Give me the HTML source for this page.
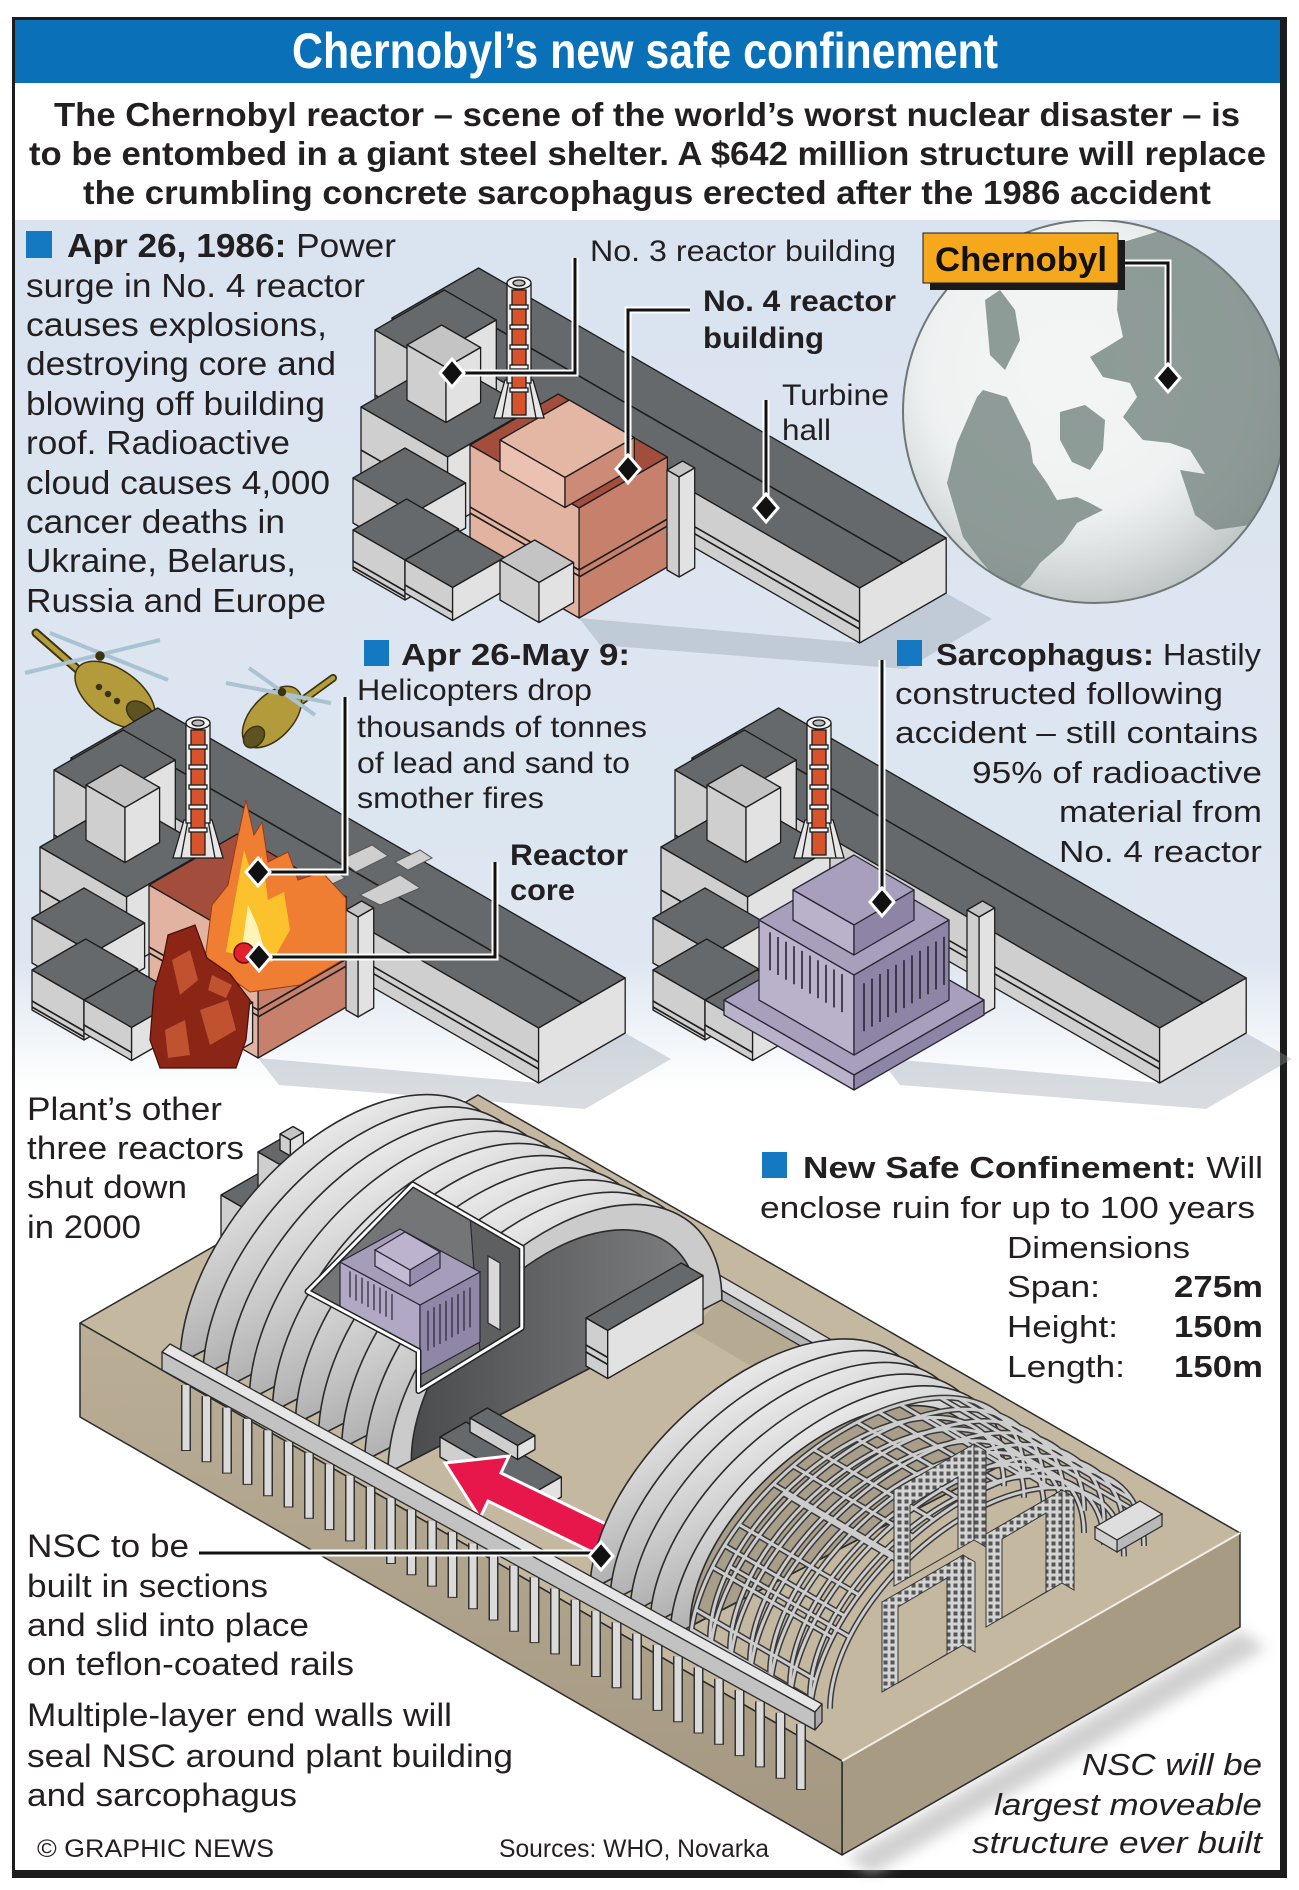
<!DOCTYPE html>
<html>
<head>
<meta charset="utf-8">
<style>
html,body{margin:0;padding:0;background:#fff;}
svg{display:block;}
.tx{font-family:'Liberation Sans',Arial,Helvetica,sans-serif;fill:#231f20;}
.b{font-weight:700;}
.t{fill:#66696b}.l{fill:#cfcfcf}.r{fill:#e2e2e2}.tl{fill:#c4c4c4}
.bx polygon{stroke:#1d1d1d;stroke-width:1.3;stroke-linejoin:round}
.ln{fill:none;stroke:#1d1d1d;stroke-width:1.6}
.sh{fill:#8e9aa8;opacity:.35}
.halo{fill:none;stroke:#fff;stroke-width:7;stroke-linejoin:miter}
.lead{fill:none;stroke:#111;stroke-width:3;stroke-linejoin:miter}
.dia{fill:#111;stroke:#fff;stroke-width:3}
.pt{fill:#a89fbd}.pl{fill:#bab1cb}.pr{fill:#8d84a6}
.sar polygon{stroke:#2a2535;stroke-width:1.3;stroke-linejoin:round}
</style>
</head>
<body>
<svg xmlns="http://www.w3.org/2000/svg" xmlns:xlink="http://www.w3.org/1999/xlink" width="1299" height="1890" viewBox="0 0 1299 1890">
<defs>
  <linearGradient id="panelG" x1="0" y1="0" x2="0" y2="1">
    <stop offset="0" stop-color="#dae4f0"/>
    <stop offset="0.85" stop-color="#dde6f1"/>
    <stop offset="1" stop-color="#ffffff"/>
  </linearGradient>
  <radialGradient id="globeShade" gradientUnits="userSpaceOnUse" cx="1070" cy="370" r="240">
    <stop offset="0" stop-color="#ffffff" stop-opacity="0"/>
    <stop offset="0.6" stop-color="#9aa4a3" stop-opacity="0.05"/>
    <stop offset="1" stop-color="#7f8a88" stop-opacity="0.45"/>
  </radialGradient>
  <linearGradient id="ribG" x1="0" y1="0" x2="0" y2="1">
    <stop offset="0" stop-color="#b2b2b2"/>
    <stop offset="1" stop-color="#e8e8e8"/>
  </linearGradient>
  <linearGradient id="darkG" x1="0" y1="0" x2="1" y2="0">
    <stop offset="0" stop-color="#4b4c4e"/>
    <stop offset="1" stop-color="#7e7f81"/>
  </linearGradient>
  <linearGradient id="leftG" x1="0" y1="0" x2="0" y2="1">
    <stop offset="0" stop-color="#bbae96"/>
    <stop offset="1" stop-color="#a49781"/>
  </linearGradient>
  <pattern id="grid" patternUnits="userSpaceOnUse" width="7" height="7">
    <rect width="7" height="7" fill="#d4d4d4"/>
    <rect x="1.5" y="1.5" width="4" height="4" fill="#555"/>
  </pattern>
  <clipPath id="globeClip"><circle cx="1094.5" cy="411.5" r="191.5"/></clipPath>
  <clipPath id="frameClip"><rect x="15" y="220" width="1265" height="800"/></clipPath>
  <clipPath id="winClip"><polygon points="412.8,1184.4 521.8,1247.5 521.8,1327.9 418.5,1391 418.5,1350.9 307.5,1291.5"/></clipPath>
  <filter id="blur" x="-20%" y="-20%" width="140%" height="140%"><feGaussianBlur stdDeviation="7"/></filter>

  <g id="plantBack" class="bx">
    <polygon class="sh" style="stroke:none" points="579,618 860,643 946,593 992,619 906,669 600,645"/>
    <polygon class="t" points="392,318 859.6,588 946.2,538 478.6,268"/>
    <polygon class="l" points="392,318 859.6,588 859.6,643 392,373"/>
    <polygon class="r" points="859.6,588 946.2,538 946.2,593 859.6,643"/>
    <polyline class="ln" points="435.3,293 902.9,563"/>
    <polyline class="ln" points="392,352 859.6,622"/>
    <polyline class="ln" points="392,359 859.6,629"/>
    <polygon class="t" points="375,330 427,360 496.3,320 444.3,290"/>
    <polygon class="l" points="375,330 427,360 427,440 375,410"/>
    <polygon class="r" points="427,360 496.3,320 496.3,400 427,440"/>
    <polyline class="ln" points="375,395 427,425"/>
    <polygon class="t" points="361,407 447.6,457 529.9,409.5 443.3,359.5"/>
    <polygon class="l" points="361,407 447.6,457 447.6,527 361,477"/>
    <polygon class="r" points="447.6,457 529.9,409.5 529.9,479.5 447.6,527"/>
    <polyline class="ln" points="361,450 447.6,500"/>
    <polygon class="tl" points="407,345 446,367.5 480.6,347.5 441.6,325"/>
    <polygon class="l" points="407,345 446,367.5 446,422.5 407,400"/>
    <polygon class="r" points="446,367.5 480.6,347.5 480.6,402.5 446,422.5"/>
    <polygon class="t" points="353,478 413.6,513 465.6,483 405,448"/>
    <polygon class="l" points="353,478 413.6,513 413.6,558 353,523"/>
    <polygon class="r" points="413.6,513 465.6,483 465.6,528 413.6,558"/>
  </g>

  <g id="plantFront" class="bx">
    <polygon class="tl" points="667,470 679.1,477 694.7,468 682.6,461"/>
    <polygon class="l" points="667,470 679.1,477 679.1,577 667,570"/>
    <polygon class="r" points="679.1,477 694.7,468 694.7,568 679.1,577"/>
    <polygon class="t" points="353,530 405,560 458.7,529 406.7,499"/>
    <polygon class="l" points="353,530 405,560 405,600 353,570"/>
    <polygon class="r" points="405,560 458.7,529 458.7,569 405,600"/>
    <polyline class="ln" points="353,561 405,591"/>
    <polyline class="ln" points="353,567 405,597"/>
    <polygon class="t" points="405,560 452.6,587.5 504.6,557.5 457,530"/>
    <polygon class="l" points="405,560 452.6,587.5 452.6,620.5 405,593"/>
    <polygon class="r" points="452.6,587.5 504.6,557.5 504.6,590.5 452.6,620.5"/>
    <polyline class="ln" points="405,585 452.6,612.5"/>
    <polygon class="tl" points="500,560 539,582.5 573.6,562.5 534.6,540"/>
    <polygon class="l" points="500,560 539,582.5 539,622.5 500,600"/>
    <polygon class="r" points="539,582.5 573.6,562.5 573.6,602.5 539,622.5"/>
  </g>

  <g id="rlow" class="bx">
    <polygon style="fill:#a34e3d" points="470,445 579.1,508 667.4,457 558.3,394"/>
    <polygon style="fill:#e2b3a1" points="470,445 579.1,508 579.1,618 470,555"/>
    <polygon style="fill:#c6806c" points="579.1,508 667.4,457 667.4,567 579.1,618"/>
    <polyline class="ln" points="470,507 579.1,570"/>
    <polyline class="ln" points="470,513 579.1,576"/>
    <polyline class="ln" points="579.1,570 667.4,519"/>
    <polyline class="ln" points="579.1,577 667.4,526"/>
  </g>
  <g id="rup" class="bx">
    <polygon style="fill:#e4b6a4" points="500,440 565,477.5 634.3,437.5 569.3,400"/>
    <polygon style="fill:#ebc2b1" points="500,440 565,477.5 565,507.5 500,470"/>
    <polygon style="fill:#cd8a76" points="565,477.5 634.3,437.5 634.3,467.5 565,507.5"/>
  </g>

  <g id="chim" stroke="#1d1d1d" stroke-width="1.3">
    <polygon points="505,380 494,418 544,418 533,380" fill="#e6e6e6"/>
    <path d="M509,380 L502,418 M529,380 L536,418" fill="none"/>
    <rect x="507" y="283" width="24" height="100" fill="#eeeeee"/>
    <rect x="512" y="290" width="14" height="125" fill="#d6532c"/>
    <rect x="510" y="305" width="18" height="4" fill="#f2f2f2"/>
    <rect x="510" y="325" width="18" height="4" fill="#f2f2f2"/>
    <rect x="510" y="345" width="18" height="4" fill="#f2f2f2"/>
    <rect x="510" y="365" width="18" height="4" fill="#f2f2f2"/>
    <rect x="510" y="388" width="18" height="4" fill="#f2f2f2"/>
    <ellipse cx="519" cy="283" rx="12" ry="6" fill="#f2f2f2"/>
    <ellipse cx="519" cy="283" rx="6" ry="3" fill="#bbbbbb"/>
  </g>

  <g id="latt" fill="none">
    <path vector-effect="non-scaling-stroke" transform="matrix(167 -86.5 0 -140 857 1562.2)" d="M1,0 A1,1 0 0 1 -1,0"/>
    <path vector-effect="non-scaling-stroke" transform="matrix(167 -86.5 0 -140 877 1573.9)" d="M1,0 A1,1 0 0 1 -1,0"/>
    <path vector-effect="non-scaling-stroke" transform="matrix(167 -86.5 0 -140 897 1585.6)" d="M1,0 A1,1 0 0 1 -1,0"/>
    <path vector-effect="non-scaling-stroke" transform="matrix(167 -86.5 0 -140 917 1597.3)" d="M1,0 A1,1 0 0 1 -1,0"/>
    <path vector-effect="non-scaling-stroke" transform="matrix(167 -86.5 0 -140 937 1609.1)" d="M1,0 A1,1 0 0 1 -1,0"/>
    <path vector-effect="non-scaling-stroke" transform="matrix(167 -86.5 0 -140 957 1620.8)" d="M1,0 A1,1 0 0 1 -1,0"/>
    <path vector-effect="non-scaling-stroke" transform="matrix(167 -86.5 0 -140 977 1632.5)" d="M1,0 A1,1 0 0 1 -1,0"/>
    <path vector-effect="non-scaling-stroke" transform="matrix(147 -76.1 0 -123.2 857 1562.2)" d="M1,0 A1,1 0 0 1 -1,0"/>
    <path vector-effect="non-scaling-stroke" transform="matrix(147 -76.1 0 -123.2 877 1573.9)" d="M1,0 A1,1 0 0 1 -1,0"/>
    <path vector-effect="non-scaling-stroke" transform="matrix(147 -76.1 0 -123.2 897 1585.6)" d="M1,0 A1,1 0 0 1 -1,0"/>
    <path vector-effect="non-scaling-stroke" transform="matrix(147 -76.1 0 -123.2 917 1597.3)" d="M1,0 A1,1 0 0 1 -1,0"/>
    <path vector-effect="non-scaling-stroke" transform="matrix(147 -76.1 0 -123.2 937 1609.1)" d="M1,0 A1,1 0 0 1 -1,0"/>
    <path vector-effect="non-scaling-stroke" transform="matrix(147 -76.1 0 -123.2 957 1620.8)" d="M1,0 A1,1 0 0 1 -1,0"/>
    <path vector-effect="non-scaling-stroke" transform="matrix(147 -76.1 0 -123.2 977 1632.5)" d="M1,0 A1,1 0 0 1 -1,0"/>
    <path d="M1018.3,1442.4 l120,70.4 M1001.6,1417.3 l120,70.4 M975.1,1402 l120,70.4 M940.5,1397.75 l120,70.4 M900.3,1404.6 l120,70.4 M857,1422.2 l120,70.4 M813.7,1449.4 l120,70.4 M773.5,1484.25 l120,70.4 M738.9,1524.4 l120,70.4 M712.4,1567.1 l120,70.4 M695.7,1609.6 l120,70.4 M984.3,1434.7 l120,70.4 M930.5,1417.5 l120,70.4 M857,1439 l120,70.4 M783.5,1493.6 l120,70.4 M729.7,1566.5 l120,70.4 M1011.3,1428.7 l120,70.4 M958.7,1398.5 l120,70.4 M878.9,1412.1 l120,70.4 M793,1465.9 l120,70.4 M724.6,1545.5 l120,70.4 M691.5,1629.6 l120,70.4"/>
  </g>
</defs>

<!-- frame -->
<rect x="0" y="0" width="1299" height="1890" fill="#ffffff"/>
<rect x="12" y="17" width="1275" height="1861" fill="#1c1c1c"/>
<rect x="15" y="20" width="1265" height="1850" fill="#ffffff"/>

<!-- header -->
<rect x="15" y="20" width="1265" height="63" fill="#0a71b9"/>
<text class="tx b" x="292" y="68" font-size="50" textLength="706" lengthAdjust="spacingAndGlyphs" style="fill:#ffffff">Chernobyl’s new safe confinement</text>

<text class="tx b" x="54" y="126" font-size="33" textLength="1186" lengthAdjust="spacingAndGlyphs">The Chernobyl reactor – scene of the world’s worst nuclear disaster – is</text>
<text class="tx b" x="29" y="165" font-size="33" textLength="1237" lengthAdjust="spacingAndGlyphs">to be entombed in a giant steel shelter. A $642 million structure will replace</text>
<text class="tx b" x="83" y="204" font-size="33" textLength="1128" lengthAdjust="spacingAndGlyphs">the crumbling concrete sarcophagus erected after the 1986 accident</text>

<!-- light blue panel -->
<rect x="15" y="220" width="1265" height="870" fill="url(#panelG)"/>

<!-- ===== Section 1 ===== -->
<rect x="26" y="231" width="26" height="27" fill="#1479c0"/>
<text class="tx" x="67" y="257" font-size="33" textLength="329" lengthAdjust="spacingAndGlyphs"><tspan class="b">Apr 26, 1986:</tspan> Power</text>
<text class="tx" x="26" y="297" font-size="33" textLength="339" lengthAdjust="spacingAndGlyphs">surge in No. 4 reactor</text>
<text class="tx" x="26" y="336" font-size="33" textLength="301" lengthAdjust="spacingAndGlyphs">causes explosions,</text>
<text class="tx" x="26" y="375" font-size="33" textLength="310" lengthAdjust="spacingAndGlyphs">destroying core and</text>
<text class="tx" x="26" y="415" font-size="33" textLength="299" lengthAdjust="spacingAndGlyphs">blowing off building</text>
<text class="tx" x="26" y="454" font-size="33" textLength="264" lengthAdjust="spacingAndGlyphs">roof. Radioactive</text>
<text class="tx" x="26" y="494" font-size="33" textLength="304" lengthAdjust="spacingAndGlyphs">cloud causes 4,000</text>
<text class="tx" x="26" y="533" font-size="33" textLength="259" lengthAdjust="spacingAndGlyphs">cancer deaths in</text>
<text class="tx" x="26" y="572" font-size="33" textLength="270" lengthAdjust="spacingAndGlyphs">Ukraine, Belarus,</text>
<text class="tx" x="26" y="612" font-size="33" textLength="300" lengthAdjust="spacingAndGlyphs">Russia and Europe</text>

<!-- globe -->
<g clip-path="url(#frameClip)">
  <circle cx="1094.5" cy="411.5" r="191.5" fill="#f3f5f5"/>
  <g clip-path="url(#globeClip)">
    <path fill="#8c9a96" d="M1120,243 L1163,230 1223,247 1263,287 1287,343 1290,443 1277,500 1243,520 1220,510 1207,477 1190,450 1170,443 1143,440 1123,417 1137,397 1130,383 1103,377 1090,357 1107,347 1123,337 1117,310 Z"/>
    <path fill="#8c9a96" d="M947,483 L957,443 977,397 983,390 1007,397 1017,417 1030,443 1033,463 1047,483 1057,500 1077,497 1090,503 1103,510 1077,523 1063,543 1040,563 1030,577 1017,590 1000,583 980,560 963,537 Z"/>
    <path fill="#8c9a96" d="M1060,412 L1085,405 1105,420 1103,450 1090,470 1072,462 1060,440 Z"/>
    <path fill="#8c9a96" d="M985,300 L1000,290 1015,310 1020,340 1005,370 990,355 Z"/>
    <path fill="#8c9a96" d="M1180,470 L1230,478 1262,500 1250,525 1215,530 1195,515 Z"/>
    <circle cx="1094.5" cy="411.5" r="192" fill="url(#globeShade)"/>
  </g>
  <circle cx="1094.5" cy="411.5" r="191.5" fill="none" stroke="#6e7775" stroke-width="2"/>
</g>
<!-- Chernobyl label -->
<rect x="930" y="240" width="195" height="50" fill="#1a1a1a"/>
<rect x="923" y="233" width="195" height="50" fill="#f6a81c" stroke="#1a1a1a" stroke-width="1"/>
<text class="tx b" x="935" y="271" font-size="34" textLength="172" lengthAdjust="spacingAndGlyphs" style="fill:#111">Chernobyl</text>
<path class="halo" d="M1125,263 H1168 V366"/>
<path class="lead" d="M1125,263 H1168 V366"/>
<polygon class="dia" points="1168,364 1180,378 1168,392 1156,378"/>

<!-- Building 1 -->
<use xlink:href="#plantBack"/>
<use xlink:href="#rlow"/>
<use xlink:href="#rup"/>
<use xlink:href="#chim"/>
<use xlink:href="#plantFront"/>

<text class="tx" x="590" y="261" font-size="30" textLength="306" lengthAdjust="spacingAndGlyphs">No. 3 reactor building</text>
<text class="tx b" x="703" y="311" font-size="30" textLength="193" lengthAdjust="spacingAndGlyphs">No. 4 reactor</text>
<text class="tx b" x="703" y="348" font-size="30" textLength="121" lengthAdjust="spacingAndGlyphs">building</text>
<text class="tx" x="782" y="405" font-size="30" textLength="107" lengthAdjust="spacingAndGlyphs">Turbine</text>
<text class="tx" x="782" y="440" font-size="30" textLength="49" lengthAdjust="spacingAndGlyphs">hall</text>

<path class="halo" d="M575,258 V373 H462"/>
<path class="lead" d="M575,258 V373 H462"/>
<polygon class="dia" points="452,359 464,373 452,387 440,373"/>
<path class="halo" d="M690,310 H628 V458"/>
<path class="lead" d="M690,310 H628 V458"/>
<polygon class="dia" points="628,455 640,469 628,483 616,469"/>
<path class="halo" d="M766,400 V496"/>
<path class="lead" d="M766,400 V496"/>
<polygon class="dia" points="766,494 778,508 766,522 754,508"/>

<!-- ===== Section 2 ===== -->
<!-- helicopters -->
<g stroke="#3b3312" stroke-width="1.5">
  <line x1="92" y1="682" x2="36" y2="633" stroke="#3b3312" stroke-width="9" stroke-linecap="round"/>
  <line x1="92" y1="682" x2="36" y2="633" stroke="#b59d3c" stroke-width="5" stroke-linecap="round"/>
  <ellipse cx="115" cy="695" rx="46" ry="25" transform="rotate(36 115 695)" fill="#b39b3b"/>
  <ellipse cx="140" cy="713" rx="15" ry="10" transform="rotate(36 140 713)" fill="#5e5220"/>
  <circle cx="108" cy="694" r="2.5" fill="#3b3312"/>
  <circle cx="117" cy="701" r="2.5" fill="#3b3312"/>
  <circle cx="99" cy="687" r="2.5" fill="#3b3312"/>
  <line x1="25" y1="673" x2="160" y2="640" stroke="#a9c3d2" stroke-width="4"/>
  <line x1="50" y1="633" x2="168" y2="680" stroke="#a9c3d2" stroke-width="4"/>
  <circle cx="100" cy="656" r="4" fill="#3b3312"/>
  <line x1="300" y1="702" x2="333" y2="678" stroke="#3b3312" stroke-width="8" stroke-linecap="round"/>
  <line x1="300" y1="702" x2="333" y2="678" stroke="#b59d3c" stroke-width="4.5" stroke-linecap="round"/>
  <ellipse cx="272" cy="717" rx="37" ry="21" transform="rotate(-47 272 717)" fill="#b39b3b"/>
  <ellipse cx="254" cy="737" rx="12" ry="9" transform="rotate(-47 254 737)" fill="#5e5220"/>
  <line x1="226" y1="683" x2="331" y2="703" stroke="#a9c3d2" stroke-width="4"/>
  <line x1="249" y1="668" x2="315" y2="715" stroke="#a9c3d2" stroke-width="4"/>
  <circle cx="282" cy="692" r="3.5" fill="#3b3312"/>
</g>

<!-- Building 2 (fire) -->
<g transform="translate(-321,440)">
  <use xlink:href="#plantBack"/>
  <use xlink:href="#rlow"/>
  <use xlink:href="#chim"/>
  <use xlink:href="#plantFront"/>
</g>
<g stroke="#555" stroke-width="1" fill="#cfcfcf">
  <polygon points="300,880 330,868 345,878 315,892"/>
  <polygon points="340,860 372,845 388,856 356,872"/>
  <polygon points="360,895 400,875 420,888 380,905"/>
  <polygon points="395,862 420,850 432,858 408,870"/>
</g>
<polygon points="205,960 212,905 228,885 236,845 246,800 254,835 262,822 268,862 288,852 298,880 322,872 346,898 346,958 300,985 250,992" fill="#ef7d32" stroke="#9a3a12" stroke-width="1"/>
<polygon points="226,952 234,905 244,850 252,875 262,856 268,900 284,892 290,930 272,962" fill="#fbc22e"/>
<polygon points="242,948 248,905 257,925 264,948" fill="#fff4b8"/>
<polygon points="168,935 195,925 207,958 230,974 250,1000 246,1040 236,1068 160,1068 150,1040 154,990 163,960" fill="#8b2516" stroke="#4a0e06" stroke-width="1.2"/>
<g fill="#c0522f">
  <polygon points="172,960 190,950 198,980 180,995"/>
  <polygon points="200,1010 228,1000 236,1030 210,1045"/>
  <polygon points="165,1030 185,1020 190,1055 168,1058"/>
  <polygon points="212,975 232,985 226,998 208,990"/>
</g>
<circle cx="244" cy="953" r="10" fill="#e11f2d" stroke="#6b0c0c" stroke-width="1.5"/>

<rect x="364" y="640" width="25" height="26" fill="#1479c0"/>
<text class="tx b" x="401" y="665" font-size="31" textLength="229" lengthAdjust="spacingAndGlyphs">Apr 26-May 9:</text>
<text class="tx" x="357" y="700" font-size="30" textLength="235" lengthAdjust="spacingAndGlyphs">Helicopters drop</text>
<text class="tx" x="357" y="737" font-size="30" textLength="290" lengthAdjust="spacingAndGlyphs">thousands of tonnes</text>
<text class="tx" x="357" y="773" font-size="30" textLength="273" lengthAdjust="spacingAndGlyphs">of lead and sand to</text>
<text class="tx" x="357" y="808" font-size="30" textLength="187" lengthAdjust="spacingAndGlyphs">smother fires</text>
<text class="tx b" x="510" y="865" font-size="30" textLength="118" lengthAdjust="spacingAndGlyphs">Reactor</text>
<text class="tx b" x="510" y="900" font-size="30" textLength="65" lengthAdjust="spacingAndGlyphs">core</text>

<path class="halo" d="M345,697 V872 H268"/>
<path class="lead" d="M345,697 V872 H268"/>
<polygon class="dia" points="258,858 270,872 258,886 246,872"/>
<path class="halo" d="M495,862 V957 H270"/>
<path class="lead" d="M495,862 V957 H270"/>
<polygon class="dia" points="259,943 271,957 259,971 247,957"/>

<!-- Building 3 (sarcophagus) -->
<g transform="translate(300,440)">
  <use xlink:href="#plantBack"/>
  <use xlink:href="#chim"/>
  <use xlink:href="#plantFront"/>
</g>
<g class="sar">
  <polygon class="pt" points="724,1000 854,1075 984,1000 854,925"/>
  <polygon class="pl" points="724,1000 854,1075 854,1090 724,1015"/>
  <polygon class="pr" points="854,1075 984,1000 984,1015 854,1090"/>
  <polygon class="pt" points="759,920 854,975 949,920 854,865"/>
  <polygon class="pl" points="759,920 854,975 854,1055 759,1000"/>
  <polygon class="pr" points="854,975 949,920 949,1000 854,1055"/>
  <polygon class="pt" points="793,890 854,925 914,890 854,855"/>
  <polygon class="pl" points="793,890 854,925 854,955 793,920"/>
  <polygon class="pr" points="854,925 914,890 914,920 854,955"/>
</g>
<path d="M770,932.4v38M778,937v38M786,941.7v38M794,946.3v38M802,950.9v38M810,955.6v38M818,960.2v38M826,964.8v38M834,969.5v38M842,974.1v38" stroke="#2a2535" stroke-width="1.6" fill="none"/>
<path d="M864,983.2v48M872,978.6v48M880,974v48M888,969.3v48M896,964.7v48M904,960.1v48M912,955.4v48M920,950.8v48M928,946.2v48M936,941.5v48M944,936.9v48" stroke="#2a2535" stroke-width="1.6" fill="none"/>

<rect x="897" y="640" width="25" height="26" fill="#1479c0"/>
<text class="tx" x="936" y="665" font-size="31" textLength="325" lengthAdjust="spacingAndGlyphs"><tspan class="b">Sarcophagus:</tspan> Hastily</text>
<text class="tx" x="895" y="704" font-size="31" textLength="328" lengthAdjust="spacingAndGlyphs">constructed following</text>
<text class="tx" x="895" y="743" font-size="31" textLength="363" lengthAdjust="spacingAndGlyphs">accident – still contains</text>
<text class="tx" x="972" y="783" font-size="31" textLength="290" lengthAdjust="spacingAndGlyphs">95% of radioactive</text>
<text class="tx" x="1059" y="822" font-size="31" textLength="203" lengthAdjust="spacingAndGlyphs">material from</text>
<text class="tx" x="1059" y="862" font-size="31" textLength="203" lengthAdjust="spacingAndGlyphs">No. 4 reactor</text>

<path class="halo" d="M882,660 V890"/>
<path class="lead" d="M882,660 V890"/>
<polygon class="dia" points="882,888 894,902 882,916 870,902"/>

<!-- ===== Section 3 ===== -->
<!-- platform shadow -->
<polygon points="846,1858 1240,1630 1266,1648 872,1874" fill="#bdbdbd" opacity="0.7" filter="url(#blur)"/>
<!-- platform -->
<g stroke="#2b2b2b" stroke-width="1.5" stroke-linejoin="round">
  <polygon points="478,1095 1240,1533 842,1761 80,1323" fill="#c4b8a1"/>
  <polygon points="1240,1533 1240,1627 842,1855 842,1761" fill="#a89b84"/>
  <polygon points="80,1323 842,1761 842,1855 80,1417" fill="url(#leftG)"/>
</g>
<line x1="842" y1="1761" x2="1240" y2="1533" stroke="#f4f0e8" stroke-width="2"/>
<!-- platform shadow patches -->
<polygon points="720,1300 900,1403 860,1430 690,1330" fill="#b0a48d" opacity="0.7"/>

<!-- piles -->
<path d="M186 1385v66M206.5 1396.3v66M227 1407.6v66M247.5 1418.9v66M268 1430.2v66M288.5 1441.5v66M309 1452.8v66M329.5 1464.1v66M350 1475.4v66M370.5 1486.7v66M391 1498v66M411.5 1509.3v66M432 1520.6v66M452.5 1531.9v66M473 1543.2v66M493.5 1554.5v66M514 1565.8v66M534.5 1577.1v66M555 1588.4v66M575.5 1599.7v66M596 1611v66M616.5 1622.3v66M637 1633.6v66M657.5 1644.9v66M678 1656.2v66M698.5 1667.5v66M719 1678.8v66M739.5 1690.1v66M760 1701.4v66M780.5 1712.7v66M801 1724v66" stroke="#333" stroke-width="10" fill="none"/>
<path d="M186 1385v65M206.5 1396.3v65M227 1407.6v65M247.5 1418.9v65M268 1430.2v65M288.5 1441.5v65M309 1452.8v65M329.5 1464.1v65M350 1475.4v65M370.5 1486.7v65M391 1498v65M411.5 1509.3v65M432 1520.6v65M452.5 1531.9v65M473 1543.2v65M493.5 1554.5v65M514 1565.8v65M534.5 1577.1v65M555 1588.4v65M575.5 1599.7v65M596 1611v65M616.5 1622.3v65M637 1633.6v65M657.5 1644.9v65M678 1656.2v65M698.5 1667.5v65M719 1678.8v65M739.5 1690.1v65M760 1701.4v65M780.5 1712.7v65M801 1724v65" stroke="#dadada" stroke-width="7" fill="none"/>

<!-- other reactors behind -->
<g class="bx">
  <polygon class="t" points="221,1195 247,1210 312,1172.5 286,1157.5"/>
  <polygon class="l" points="221,1195 247,1210 247,1270 221,1255"/>
  <polygon class="r" points="247,1210 312,1172.5 312,1232.5 247,1270"/>
  <polygon class="t" points="258,1152 279.7,1164.5 310,1147 288.3,1134.5"/>
  <polygon class="l" points="258,1152 279.7,1164.5 279.7,1199.5 258,1187"/>
  <polygon class="r" points="279.7,1164.5 310,1147 310,1182 279.7,1199.5"/>
  <polygon class="tl" points="280,1134 290.4,1140 303.4,1132.5 293,1126.5"/>
  <polygon class="l" points="280,1134 290.4,1140 290.4,1156 280,1150"/>
  <polygon class="r" points="290.4,1140 303.4,1132.5 303.4,1148.5 290.4,1156"/>
</g>
<!-- back rail -->
<g stroke="#2b2b2b" stroke-width="1.3">
  <polygon points="690,1272 925,1408 937,1401 702,1265" fill="#dcdcdc"/>
  <polygon points="690,1272 925,1408 925,1418 690,1282" fill="#b5b5b5"/>
</g>

<!-- left arch ribs -->
<g fill="url(#ribG)" stroke="#2b2b2b" stroke-width="1.6">
  <path vector-effect="non-scaling-stroke" transform="matrix(167 -86.5 0 -160 347 1276.5)" d="M1,0 A1,1 0 0 1 -1,0 Z"/>
  <path vector-effect="non-scaling-stroke" transform="matrix(167 -86.5 0 -160 370.1 1288.7)" d="M1,0 A1,1 0 0 1 -1,0 Z"/>
  <path vector-effect="non-scaling-stroke" transform="matrix(167 -86.5 0 -160 393.2 1300.9)" d="M1,0 A1,1 0 0 1 -1,0 Z"/>
  <path vector-effect="non-scaling-stroke" transform="matrix(167 -86.5 0 -160 416.3 1313.1)" d="M1,0 A1,1 0 0 1 -1,0 Z"/>
  <path vector-effect="non-scaling-stroke" transform="matrix(167 -86.5 0 -160 439.4 1325.3)" d="M1,0 A1,1 0 0 1 -1,0 Z"/>
  <path vector-effect="non-scaling-stroke" transform="matrix(167 -86.5 0 -160 462.5 1337.5)" d="M1,0 A1,1 0 0 1 -1,0 Z"/>
  <path vector-effect="non-scaling-stroke" transform="matrix(167 -86.5 0 -160 485.6 1349.7)" d="M1,0 A1,1 0 0 1 -1,0 Z"/>
  <path vector-effect="non-scaling-stroke" transform="matrix(167 -86.5 0 -160 508.7 1361.9)" d="M1,0 A1,1 0 0 1 -1,0 Z"/>
  <path vector-effect="non-scaling-stroke" transform="matrix(167 -86.5 0 -160 531.8 1374.1)" d="M1,0 A1,1 0 0 1 -1,0 Z"/>
  <path vector-effect="non-scaling-stroke" transform="matrix(167 -86.5 0 -160 554.9 1386.3)" d="M1,0 A1,1 0 0 1 -1,0 Z" fill="#cbcbcb"/>
  <path vector-effect="non-scaling-stroke" transform="matrix(143.6 -74.4 0 -137.6 554.9 1386.3)" d="M1,0 A1,1 0 0 1 -1,0 Z" fill="url(#darkG)"/>
</g>
<!-- cutaway window -->
<polygon points="412.8,1184.4 521.8,1247.5 521.8,1327.9 418.5,1391 418.5,1350.9 307.5,1291.5" fill="#747577"/>
<g clip-path="url(#winClip)" stroke="#2a2535" stroke-width="1.2">
  <polygon points="470,1215 521.8,1247.5 521.8,1327.9 480,1352" fill="#5e5f61"/>
  <polygon points="488,1256 500,1263 500,1330 488,1323" fill="#d9d9d9"/>
  <polygon points="340,1262 420,1305 420,1375 340,1332" fill="#b1a8c6"/>
  <polygon points="420,1305 480,1272 480,1342 420,1375" fill="#8f86a8"/>
  <polygon points="340,1262 420,1305 480,1272 400,1229" fill="#a69dbb"/>
  <polygon points="375,1250 410,1270 440,1252 405,1232" fill="#bcb4cf"/>
  <polygon points="375,1250 410,1270 410,1286 375,1266" fill="#c3bbd4"/>
  <polygon points="410,1270 440,1252 440,1268 410,1286" fill="#968dae"/>
  <path d="M428,1310.6v40M434,1307.3v40M440,1304v40M446,1300.7v40M452,1297.4v40M458,1294.1v40M464,1290.8v40M470,1287.5v40" fill="none"/>
  <path d="M350,1271.4v26M356,1274.6v26M362,1277.8v26M368,1281.1v26M374,1284.3v26M380,1287.5v26M386,1290.7v26M392,1294v26" fill="none"/>
</g>
<polygon points="412.8,1184.4 521.8,1247.5 521.8,1327.9 418.5,1391 418.5,1350.9 307.5,1291.5" fill="none" stroke="#222" stroke-width="6" stroke-linejoin="round"/>
<polygon points="412.8,1184.4 521.8,1247.5 521.8,1327.9 418.5,1391 418.5,1350.9 307.5,1291.5" fill="none" stroke="#fff" stroke-width="3" stroke-linejoin="round"/>

<!-- box X and Y -->
<g class="bx">
  <polygon class="t" points="586,1318 607.7,1330.5 703,1275.5 681.3,1263"/>
  <polygon class="l" points="586,1318 607.7,1330.5 607.7,1378.5 586,1366"/>
  <polygon class="r" points="607.7,1330.5 703,1275.5 703,1323.5 607.7,1378.5"/>
  <polyline class="ln" points="586,1345 607.7,1357.5"/>
  <polyline class="ln" points="586,1352 607.7,1364.5"/>
  <polygon class="t" points="440,1437 535.3,1492 561.3,1477 466,1422"/>
  <polygon class="l" points="440,1437 535.3,1492 535.3,1512 440,1457"/>
  <polygon class="r" points="535.3,1492 561.3,1477 561.3,1497 535.3,1512"/>
  <polygon class="t" points="470,1418 517.6,1445.5 534.9,1435.5 487.3,1408"/>
  <polygon class="l" points="470,1418 517.6,1445.5 517.6,1459.5 470,1432"/>
  <polygon class="r" points="517.6,1445.5 534.9,1435.5 534.9,1449.5 517.6,1459.5"/>
</g>

<!-- red arrow -->
<polygon points="610,1526 501,1473 509,1456 445,1463 480,1518 488,1501 596,1554" fill="#e8174b" stroke="#fff" stroke-width="3" stroke-linejoin="miter"/>

<!-- right arch solid ribs -->
<g fill="url(#ribG)" stroke="#2b2b2b" stroke-width="1.6">
  <path vector-effect="non-scaling-stroke" transform="matrix(167 -86.5 0 -140 757 1503.5)" d="M1,0 A1,1 0 0 1 -1,0 Z"/>
  <path vector-effect="non-scaling-stroke" transform="matrix(167 -86.5 0 -140 777 1515.2)" d="M1,0 A1,1 0 0 1 -1,0 Z"/>
  <path vector-effect="non-scaling-stroke" transform="matrix(167 -86.5 0 -140 797 1527)" d="M1,0 A1,1 0 0 1 -1,0 Z"/>
  <path vector-effect="non-scaling-stroke" transform="matrix(167 -86.5 0 -140 817 1538.7)" d="M1,0 A1,1 0 0 1 -1,0 Z"/>
  <path vector-effect="non-scaling-stroke" transform="matrix(167 -86.5 0 -140 837 1550.4)" d="M1,0 A1,1 0 0 1 -1,0 Z"/>
  <path vector-effect="non-scaling-stroke" transform="matrix(147 -76.1 0 -123.2 837 1550.4)" d="M1,0 A1,1 0 0 1 -1,0 Z" fill="#a89e8a"/>
</g>
<!-- lattice -->
<use xlink:href="#latt" stroke="#3a3a3a" stroke-width="6"/>
<use xlink:href="#latt" stroke="#cdcdcd" stroke-width="3"/>

<!-- towers -->
<g stroke="#333" stroke-width="1">
  <polygon points="974,1444 986,1451 986,1547 974,1540" fill="url(#grid)"/>
  <path d="M894,1490 L974,1444 L974,1540 L894,1586 Z M910,1505 L958,1477 L958,1549.2 L910,1576.8 Z" fill="url(#grid)" fill-rule="evenodd"/>
  <polygon points="1062,1490 1074,1497 1074,1590 1062,1583" fill="url(#grid)"/>
  <path d="M986,1534 L1062,1490 L1062,1583 L986,1627 Z M1002,1539 L1046,1513 L1046,1592 L1002,1618 Z" fill="url(#grid)" fill-rule="evenodd"/>
  <polygon points="963,1555 975,1562 975,1652 963,1645" fill="url(#grid)"/>
  <path d="M882,1602 L963,1555 L963,1645 L882,1692 Z M898,1607 L947,1578 L947,1654 L898,1683 Z" fill="url(#grid)" fill-rule="evenodd"/>
</g>
<!-- base block at back foot -->
<g stroke="#2b2b2b" stroke-width="1.2">
  <polygon points="1095,1527 1140,1501 1162,1514 1117,1540" fill="#dedede"/>
  <polygon points="1117,1540 1162,1514 1162,1526 1117,1552" fill="#b9b9b9"/>
  <polygon points="1095,1527 1117,1540 1117,1552 1095,1539" fill="#cfcfcf"/>
</g>

<!-- front rail -->
<g stroke="#2b2b2b" stroke-width="1.3" stroke-linejoin="round">
  <polygon points="162,1352 815,1712 822,1704 170,1344" fill="#e6e6e6"/>
  <polygon points="162,1352 815,1712 815,1730 162,1370" fill="#c2c2c2"/>
  <polygon points="815,1712 822,1704 822,1722 815,1730" fill="#a9a9a9"/>
</g>

<!-- NSC leader -->
<path class="halo" d="M199,1553 H592"/>
<path class="lead" d="M199,1553 H592"/>
<polygon class="dia" points="601,1542 613,1556 601,1570 589,1556"/>

<!-- section 3 text -->
<text class="tx" x="27" y="1120" font-size="32" textLength="195" lengthAdjust="spacingAndGlyphs">Plant’s other</text>
<text class="tx" x="27" y="1159" font-size="32" textLength="217" lengthAdjust="spacingAndGlyphs">three reactors</text>
<text class="tx" x="27" y="1198" font-size="32" textLength="160" lengthAdjust="spacingAndGlyphs">shut down</text>
<text class="tx" x="27" y="1238" font-size="32" textLength="114" lengthAdjust="spacingAndGlyphs">in 2000</text>

<rect x="762" y="1152" width="25" height="26" fill="#1479c0"/>
<text class="tx" x="803" y="1178" font-size="31" textLength="460" lengthAdjust="spacingAndGlyphs"><tspan class="b">New Safe Confinement:</tspan> Will</text>
<text class="tx" x="760" y="1218" font-size="31" textLength="495" lengthAdjust="spacingAndGlyphs">enclose ruin for up to 100 years</text>
<text class="tx" x="1007" y="1258" font-size="31" textLength="183" lengthAdjust="spacingAndGlyphs">Dimensions</text>
<text class="tx" x="1007" y="1297" font-size="31" textLength="93" lengthAdjust="spacingAndGlyphs">Span:</text>
<text class="tx b" x="1174" y="1297" font-size="31" textLength="89" lengthAdjust="spacingAndGlyphs">275m</text>
<text class="tx" x="1007" y="1337" font-size="31" textLength="111" lengthAdjust="spacingAndGlyphs">Height:</text>
<text class="tx b" x="1174" y="1337" font-size="31" textLength="89" lengthAdjust="spacingAndGlyphs">150m</text>
<text class="tx" x="1007" y="1377" font-size="31" textLength="118" lengthAdjust="spacingAndGlyphs">Length:</text>
<text class="tx b" x="1174" y="1377" font-size="31" textLength="89" lengthAdjust="spacingAndGlyphs">150m</text>

<text class="tx" x="27" y="1557" font-size="32" textLength="162" lengthAdjust="spacingAndGlyphs">NSC to be</text>
<text class="tx" x="27" y="1597" font-size="32" textLength="241" lengthAdjust="spacingAndGlyphs">built in sections</text>
<text class="tx" x="27" y="1636" font-size="32" textLength="282" lengthAdjust="spacingAndGlyphs">and slid into place</text>
<text class="tx" x="27" y="1675" font-size="32" textLength="327" lengthAdjust="spacingAndGlyphs">on teflon-coated rails</text>
<text class="tx" x="27" y="1726" font-size="32" textLength="425" lengthAdjust="spacingAndGlyphs">Multiple-layer end walls will</text>
<text class="tx" x="27" y="1767" font-size="32" textLength="486" lengthAdjust="spacingAndGlyphs">seal NSC around plant building</text>
<text class="tx" x="27" y="1806" font-size="32" textLength="270" lengthAdjust="spacingAndGlyphs">and sarcophagus</text>

<text class="tx" x="37" y="1857" font-size="25" textLength="237" lengthAdjust="spacingAndGlyphs">© GRAPHIC NEWS</text>
<text class="tx" x="499" y="1857" font-size="25" textLength="270" lengthAdjust="spacingAndGlyphs">Sources: WHO, Novarka</text>

<text class="tx" x="1082" y="1775" font-size="31" font-style="italic" textLength="180" lengthAdjust="spacingAndGlyphs">NSC will be</text>
<text class="tx" x="994" y="1815" font-size="31" font-style="italic" textLength="268" lengthAdjust="spacingAndGlyphs">largest moveable</text>
<text class="tx" x="972" y="1853" font-size="31" font-style="italic" textLength="290" lengthAdjust="spacingAndGlyphs">structure ever built</text>
</svg>
</body>
</html>
